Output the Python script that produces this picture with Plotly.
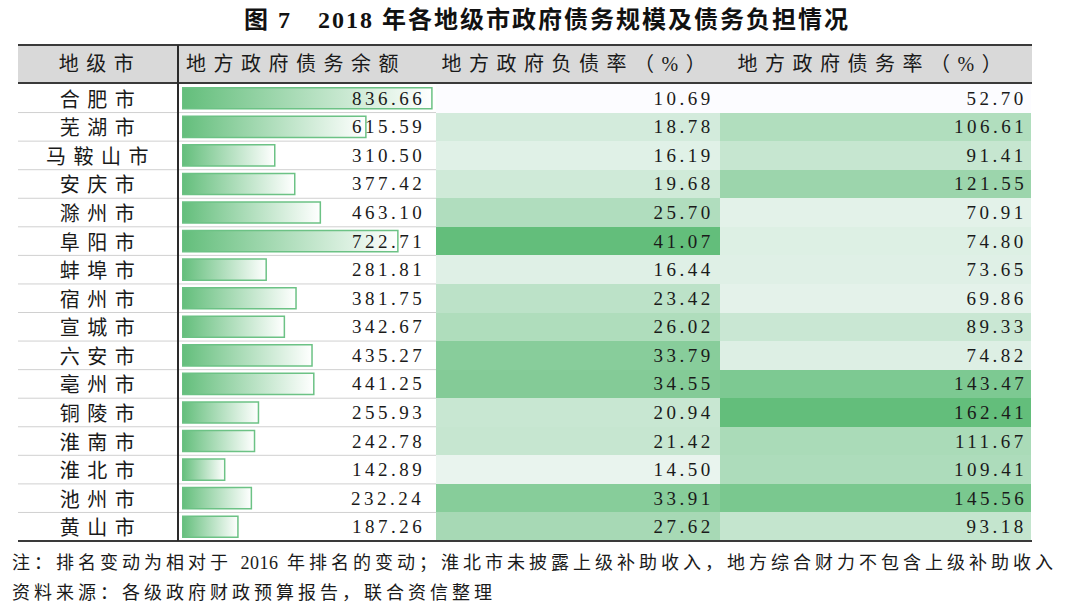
import plotly.graph_objects as go

# ---------------- data ----------------
cities = ["合肥市", "芜湖市", "马鞍山市", "安庆市", "滁州市", "阜阳市", "蚌埠市", "宿州市",
          "宣城市", "六安市", "亳州市", "铜陵市", "淮南市", "淮北市", "池州市", "黄山市"]
debt_balance = [836.66, 615.59, 310.50, 377.42, 463.10, 722.71, 281.81, 381.75,
                342.67, 435.27, 441.25, 255.93, 242.78, 142.89, 232.24, 187.26]
liability_rate = [10.69, 18.78, 16.19, 19.68, 25.70, 41.07, 16.44, 23.42,
                  26.02, 33.79, 34.55, 20.94, 21.42, 14.50, 33.91, 27.62]
debt_ratio = [52.70, 106.61, 91.41, 121.55, 70.91, 74.80, 73.65, 69.86,
              89.33, 74.82, 143.47, 162.41, 111.67, 109.41, 145.56, 93.18]
headers = ["地级市", "地方政府债务余额", "地方政府负债率（%）", "地方政府债务率（%）"]
title = "图 7　2018 年各地级市政府债务规模及债务负担情况"
notes = ["注：排名变动为相对于 2016 年排名的变动；淮北市未披露上级补助收入，地方综合财力不包含上级补助收入",
         "资料来源：各级政府财政预算报告，联合资信整理"]

# ---------------- layout helpers ----------------
W, H = 1080, 612
def px(x):
    return x / W
def py(y):
    return 1 - y / H

GREEN = "#63BE7B"
WHITE = "#FCFCFF"
MIX = "Liberation Serif, Noto Sans CJK SC"
CJK = "Noto Sans CJK SC"
TXT = "#1a1a1a"

# font sizes per text group (each group gets its own letter spacing via CSS)
FS_TITLE, SP_TITLE = 24, 2.0
FS_LABEL, SP_LABEL = 20, 7.5
FS_NUM, SP_NUM = 19, 3.5
FS_NOTE, SP_NOTE = 18, 4.0

n = len(cities)
rows = list(range(n))
row_top, row_bot = 84, 541

fig = go.Figure()

# data bars with gradient fill
half = 0.37
for i, v in enumerate(debt_balance):
    fig.add_trace(go.Scatter(
        x=[0, v, v, 0, 0],
        y=[i - half, i - half, i + half, i + half, i - half],
        mode="lines", fill="toself",
        line=dict(color="#6CC285", width=1.5),
        fillgradient=dict(type="horizontal",
                          colorscale=[[0, GREEN], [1, "#FFFFFF"]]),
        hoverinfo="skip", showlegend=False,
        xaxis="x", yaxis="y",
    ))

# colour-scaled columns
fig.add_trace(go.Heatmap(
    z=[[v] for v in liability_rate], x=[0], y=rows,
    colorscale=[[0, WHITE], [1, GREEN]], showscale=False,
    zmin=min(liability_rate), zmax=max(liability_rate),
    xaxis="x2", yaxis="y", hoverinfo="skip",
))
fig.add_trace(go.Heatmap(
    z=[[v] for v in debt_ratio], x=[0], y=rows,
    colorscale=[[0, WHITE], [1, GREEN]], showscale=False,
    zmin=min(debt_ratio), zmax=max(debt_ratio),
    xaxis="x3", yaxis="y", hoverinfo="skip",
))

def ann(x, y, text, size, family, anchor, yref="y", sp=0.0):
    # compensate for the CSS letter spacing trailing the last glyph
    if anchor == "right":
        x = x + sp
    elif anchor == "center":
        x = x + sp / 2
    return dict(x=px(x), y=y, xref="paper", yref=yref, text=text, showarrow=False,
                xanchor=anchor, yanchor="middle", align=anchor,
                font=dict(family=family, size=size, color=TXT))

annotations = []
for i in rows:
    annotations.append(ann(97, i, cities[i], FS_LABEL, CJK, "center", sp=SP_LABEL))
    annotations.append(ann(423, i, f"{debt_balance[i]:.2f}", FS_NUM, "Liberation Serif", "right", sp=SP_NUM))
    annotations.append(ann(712, i, f"{liability_rate[i]:.2f}", FS_NUM, "Liberation Serif", "right", sp=SP_NUM))
    annotations.append(ann(1025, i, f"{debt_ratio[i]:.2f}", FS_NUM, "Liberation Serif", "right", sp=SP_NUM))

hdr_y = py(64)
annotations.append(ann(96, hdr_y, headers[0], FS_LABEL, MIX, "center", yref="paper", sp=SP_LABEL))
annotations.append(ann(184, hdr_y, headers[1], FS_LABEL, MIX, "left", yref="paper", sp=SP_LABEL))
annotations.append(ann(574, hdr_y, headers[2], FS_LABEL, MIX, "center", yref="paper", sp=SP_LABEL))
annotations.append(ann(870, hdr_y, headers[3], FS_LABEL, MIX, "center", yref="paper", sp=SP_LABEL))

t = ann(546, py(19), f"<b>{title}</b>", FS_TITLE, MIX, "center", yref="paper", sp=SP_TITLE)
t["font"]["color"] = "#111111"
annotations.append(t)

# the year in the note is set without extra tracking, as in the reference
note0 = notes[0].replace("2016", '<span style="letter-spacing:0.5px">2016</span>')
annotations.append(ann(10, py(563), note0, FS_NOTE, MIX, "left", yref="paper", sp=SP_NOTE))
annotations.append(ann(10, py(593), notes[1], FS_NOTE, MIX, "left", yref="paper", sp=SP_NOTE))

shapes = []
shapes.append(dict(type="rect", xref="paper", yref="paper", x0=px(18), x1=px(1032),
                   y0=py(83), y1=py(45), fillcolor="#D9D9D9", line=dict(width=0), layer="below"))
for i in range(n - 1):
    shapes.append(dict(type="line", xref="paper", yref="y", x0=px(18), x1=px(436),
                       y0=i + 0.5, y1=i + 0.5, line=dict(color="#D0D0D0", width=1), layer="below"))
for yy in (45, 83, 541):
    shapes.append(dict(type="line", xref="paper", yref="paper", x0=px(18), x1=px(1032),
                       y0=py(yy), y1=py(yy), line=dict(color="#3A3A3A", width=2)))
shapes.append(dict(type="line", xref="paper", yref="paper", x0=px(178), x1=px(178),
                   y0=py(45), y1=py(541), line=dict(color="#2A2A2A", width=2)))

hidden = dict(showgrid=False, zeroline=False, showticklabels=False, ticks="", showline=False, fixedrange=True)
fig.update_layout(
    width=W, height=H,
    margin=dict(l=0, r=0, t=0, b=0),
    paper_bgcolor="white", plot_bgcolor="rgba(0,0,0,0)",
    showlegend=False,
    xaxis=dict(domain=[px(182), px(435)], range=[0, 847], **hidden),
    xaxis2=dict(domain=[px(436), px(720)], range=[-0.5, 0.5], anchor="y", **hidden),
    xaxis3=dict(domain=[px(720), px(1031)], range=[-0.5, 0.5], anchor="y", **hidden),
    yaxis=dict(domain=[py(row_bot), py(row_top)], range=[n - 0.5, -0.5], **hidden),
    annotations=annotations,
    shapes=shapes,
)

css = (
    "html,body{margin:0;padding:0;overflow:hidden;}"
    f'text.annotation-text[style*="font-size: {FS_TITLE}px"]{{letter-spacing:{SP_TITLE}px;}}'
    f'text.annotation-text[style*="font-size: {FS_LABEL}px"]{{letter-spacing:{SP_LABEL}px;}}'
    f'text.annotation-text[style*="font-size: {FS_NUM}px"]{{letter-spacing:{SP_NUM}px;}}'
    f'text.annotation-text[style*="font-size: {FS_NOTE}px"]{{letter-spacing:{SP_NOTE}px;}}'
)
post = ("var s=document.createElement('style');s.textContent='" + css.replace("'", "\\'") +
        "';document.head.appendChild(s);document.body.style.margin='0';")

fig.write_html("out.html", post_script=post, config={"displayModeBar": False, "staticPlot": True})
